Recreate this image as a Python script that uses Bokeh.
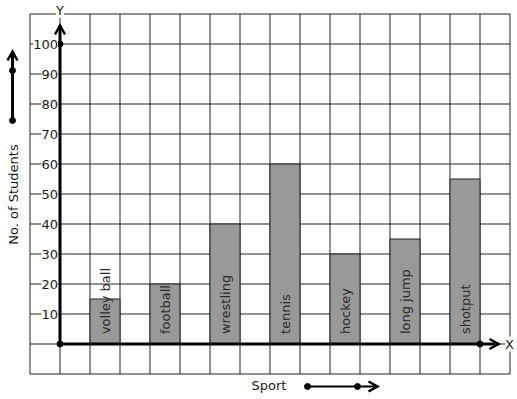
import numpy as np
from bokeh.plotting import figure
from bokeh.models import Range1d, Label, ColumnDataSource
from bokeh.core.properties import value
from bokeh.embed import file_html
from bokeh.resources import INLINE

# ---- data ----
sports = ["volley ball", "football", "wrestling", "tennis", "hockey", "long jump", "shotput"]
students = [15, 20, 40, 60, 30, 35, 55]
y_ticks = [10, 20, 30, 40, 50, 60, 70, 80, 90, 100]
x_title = "Sport"
y_title = "No. of Students"

# pixel geometry helpers (30 px per x unit, 3 px per y unit)
W, H = 517, 399
ox, oy = 59.5, 343.5
def dx(px):
    return (px - ox) / 30.0
def dy(py):
    return (oy - py) / 3.0

p = figure(width=W, height=H, output_backend="svg", toolbar_location=None,
           x_range=Range1d(dx(0), dx(W)), y_range=Range1d(dy(H), dy(0)),
           x_axis_type=None, y_axis_type=None, min_border=0,
           background_fill_color="white", border_fill_color="white")
p.outline_line_color = None
p.grid.visible = False

FONT = "DejaVu Sans"
INK = "#1a1a1a"

# graph-paper grid
gx = np.arange(-1, 16)
gy = np.arange(-10, 111, 10)
p.segment(x0=gx, y0=[-10] * len(gx), x1=gx, y1=[110] * len(gx), line_color="#222222", line_width=1)
p.segment(x0=[-1] * len(gy), y0=gy, x1=[15] * len(gy), y1=gy, line_color="#222222", line_width=1)

# bars
bx = [1.5 + 2 * i for i in range(len(sports))]
src = ColumnDataSource(dict(x=bx, top=students, name=sports))
p.vbar(x="x", top="top", bottom=0, width=1, source=src,
       fill_color="#999999", line_color="#222222", line_width=1)
p.text(x="x", y=3.3, text="name", source=src, angle=np.pi / 2,
       text_align="left", text_baseline="middle",
       text_font=value(FONT), text_font_size="13px", text_color="#2a2a2a")

# y tick labels with white background
for t in y_ticks:
    p.add_layout(Label(x=dx(57.5), y=t, text=str(t), text_align="right", text_baseline="middle",
                       text_font=FONT, text_font_size="13px", text_color=INK,
                       background_fill_color="white"))

def arrow(px0, py0, px1, py1, lw):
    """shaft plus open chevron head, given in pixel positions"""
    p.segment(x0=[dx(px0)], y0=[dy(py0)], x1=[dx(px1)], y1=[dy(py1)],
              line_width=lw, line_color="black")
    if px0 == px1:  # vertical, pointing up
        hx = [dx(px1 - 5), dx(px1), dx(px1 + 5)]
        hy = [dy(py1 + 9), dy(py1), dy(py1 + 9)]
    else:  # horizontal, pointing right
        hx = [dx(px1 - 9), dx(px1), dx(px1 - 9)]
        hy = [dy(py1 - 5), dy(py1), dy(py1 + 5)]
    p.line(x=hx, y=hy, line_width=2.5, line_color="black", line_join="miter")

# axes with arrows
arrow(ox, oy, ox, 25, 3)
arrow(ox, oy, 498, oy, 3)
p.scatter(x=[0, 0, 14], y=[0, 100, 0], size=6, color="black")

p.add_layout(Label(x=0, y=dy(10), text="Y", text_align="center", text_baseline="middle",
                   text_font=FONT, text_font_size="13px", text_color=INK,
                   background_fill_color="white"))
p.add_layout(Label(x=dx(509), y=0, text="X", text_align="center", text_baseline="middle",
                   text_font=FONT, text_font_size="13px", text_color=INK,
                   background_fill_color="white"))

# axis titles with direction arrows
p.add_layout(Label(x=dx(13), y=dy(194), text=y_title, angle=np.pi / 2,
                   text_align="center", text_baseline="middle",
                   text_font=FONT, text_font_size="13px", text_color=INK))
arrow(12, 120, 12, 51, 3)
p.scatter(x=[dx(12), dx(12)], y=[dy(120), dy(70)], size=6, color="black")

p.add_layout(Label(x=dx(268.5), y=dy(385), text=x_title,
                   text_align="center", text_baseline="middle",
                   text_font=FONT, text_font_size="13px", text_color=INK))
arrow(307, 386, 377, 386, 2)
p.scatter(x=[dx(307), dx(357)], y=[dy(386), dy(386)], size=6, color="black")

open("out.html", "w").write(file_html(p, INLINE))
